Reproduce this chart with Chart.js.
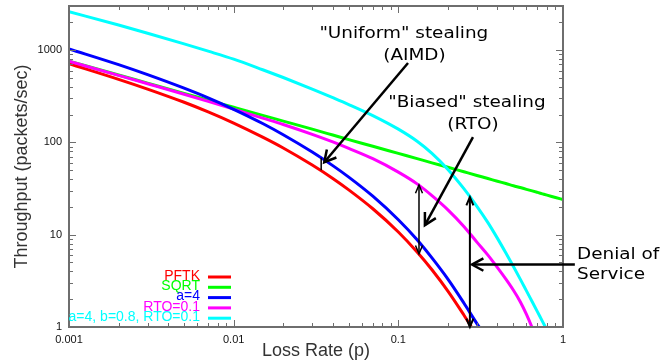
<!DOCTYPE html>
<html>
<head>
<meta charset="utf-8">
<script src="https://cdn.jsdelivr.net/npm/chart.js@4.4.1/dist/chart.umd.min.js"></script>
<style>
    html, body { margin: 0; padding: 0; background: #fff; }
    #contenedor { width: 660px; height: 362px; }
</style>
</head>
<body>
<div id="contenedor"><canvas id="graficaThroughput" width="660" height="362"></canvas></div>
<script>
// Tasas de pérdida (eje X, escala logarítmica)
const tasasPerdida = [0.001, 0.002, 0.003, 0.005, 0.007, 0.01, 0.015, 0.02, 0.03, 0.04, 0.05, 0.07, 0.1, 0.13, 0.16,
    0.2, 0.25, 0.3, 0.35, 0.4, 0.45, 0.5, 0.55, 0.6, 0.65, 0.7, 0.75, 0.8, 0.9, 1.0];

// Throughput (paquetes/seg), un valor por tasa de pérdida
const pftk = [712, 482, 378, 272, 214, 162, 114, 87, 56.8, 40.7, 30.6, 19.1, 10.7, 6.5, 4.17, 2.45, 1.35, 0.81, 0.55, 0.39];
const sqrtModelo = [759, 537, 438, 339, 287, 240, 196, 170, 139, 120, 107, 90.7, 75.9, 66.6, 60, 53.7, 48, 43.8, 40.6,
    37.9, 35.8, 33.9, 32.4, 31, 29.8, 28.7, 27.7, 26.8, 25.3, 24];
const aimdA4 = [1030, 695, 541, 386, 303, 228, 160, 121, 78.6, 56, 42, 26.1, 14.5, 8.8, 5.6, 3.3, 1.82, 1.09, 0.74, 0.52];
const rto01 = [756, 532, 432, 332, 278, 229, 183, 156, 122, 101, 86, 66.5, 47.6, 35.5, 26.5, 18.6, 12.3, 8.3, 6.0, 4.4,
    3.3, 2.5, 1.88, 1.37, 0.98, 0.69, 0.48];
const agresivo = [2600, 1865, 1522, 1167, 973, 797, 612, 504, 378, 305, 257, 195, 139, 102.8, 76, 50.9, 31.5, 20.3, 13.5,
    9.12, 6.33, 4.52, 3.3, 2.46, 1.88, 1.46, 1.15, 0.926, 0.62, 0.434];

// Etiquetas de los ejes
const etiquetasX = [0.001, 0.01, 0.1, 1];
const etiquetasY = [1, 10, 100, 1000];

// Textos de anotación: [texto, p, throughput, alineación]
const textosAnotacion = [
    ['"Uniform" stealing', 0.108, 1492, 'center'],
    ['(AIMD)', 0.1253, 861, 'center'],
    ['"Biased" stealing', 0.261, 267, 'center'],
    ['(RTO)', 0.284, 154, 'center'],
    ['Denial of', 1.216, 6.1, 'left'],
    ['Service', 1.216, 3.7, 'left']
];

// Flechas: [p inicio, T inicio, p fin, T fin, puntas, grosor]
const flechas = [
    [0.1145, 724, 0.0355, 61, 'fin', 2.5],
    [0.284, 114, 0.145, 12.7, 'fin', 2.5],
    [0.1335, 6.2, 0.1335, 34.5, 'ambas', 1.5],
    [0.272, 1, 0.272, 25.6, 'ambas', 2],
    [1.18, 4.75, 0.28, 4.75, 'fin', 2.5],
    [0.034, 50, 0.034, 68, 'ninguna', 1.5]
];

function serie(label, valores, color, orden) {
    return {
        label: label,
        data: valores.map((v, i) => ({ x: tasasPerdida[i], y: v })),
        borderColor: color,
        backgroundColor: color,
        borderWidth: 3,
        pointRadius: 0,
        cubicInterpolationMode: 'monotone',
        order: orden
    };
}

// Dibuja una punta de flecha abierta en (x2, y2)
function punta(ctx, x1, y1, x2, y2, largo, abertura) {
    const ang = Math.atan2(y2 - y1, x2 - x1);
    ctx.beginPath();
    ctx.moveTo(x2 - largo * Math.cos(ang - abertura), y2 - largo * Math.sin(ang - abertura));
    ctx.lineTo(x2, y2);
    ctx.lineTo(x2 - largo * Math.cos(ang + abertura), y2 - largo * Math.sin(ang + abertura));
    ctx.stroke();
}

// Marcas de los ejes hacia dentro, en los cuatro lados, y el marco
const marcasEje = {
    id: 'marcasEje',
    afterDraw(chart) {
        const { ctx, chartArea: a, scales: { x, y } } = chart;
        ctx.save();
        ctx.strokeStyle = '#6e6e6e';
        ctx.lineWidth = 1;
        ctx.beginPath();
        for (let e = -3; e <= 0; e++) {
            for (let d = 1; d <= 9; d++) {
                const v = d * Math.pow(10, e);
                if (v > 1.0001) break;
                const px = Math.round(x.getPixelForValue(v)) + 0.5;
                const largo = d === 1 ? 7 : 4;
                ctx.moveTo(px, a.bottom); ctx.lineTo(px, a.bottom - largo);
                ctx.moveTo(px, a.top); ctx.lineTo(px, a.top + largo);
            }
        }
        for (let e = 0; e <= 3; e++) {
            for (let d = 1; d <= 9; d++) {
                const v = d * Math.pow(10, e);
                if (v > y.max) break;
                const py = Math.round(y.getPixelForValue(v)) + 0.5;
                const largo = d === 1 ? 7 : 4;
                ctx.moveTo(a.left, py); ctx.lineTo(a.left + largo, py);
                ctx.moveTo(a.right, py); ctx.lineTo(a.right - largo, py);
            }
        }
        ctx.stroke();
        ctx.lineWidth = 2;
        ctx.strokeRect(a.left, a.top, a.right - a.left, a.bottom - a.top);
        ctx.restore();
    }
};

// Leyenda dentro del área, abajo a la izquierda
const leyendaInterna = {
    id: 'leyendaInterna',
    afterDraw(chart) {
        const { ctx, chartArea: a } = chart;
        ctx.save();
        ctx.font = '14px "Liberation Sans", Arial, sans-serif';
        ctx.textAlign = 'right';
        ctx.textBaseline = 'middle';
        chart.data.datasets.forEach((ds, i) => {
            const yy = a.bottom - 50 + i * 10.3;
            ctx.fillStyle = ds.borderColor;
            ctx.fillText(ds.label, a.left + 131, yy - 1);
            ctx.strokeStyle = ds.borderColor;
            ctx.lineWidth = 3;
            ctx.beginPath();
            ctx.moveTo(a.left + 139, yy);
            ctx.lineTo(a.left + 162, yy);
            ctx.stroke();
        });
        ctx.restore();
    }
};

// Textos y flechas de las anotaciones
const anotaciones = {
    id: 'anotaciones',
    afterDraw(chart) {
        const { ctx, scales: { x, y } } = chart;
        ctx.save();
        ctx.fillStyle = '#000';
        ctx.strokeStyle = '#000';
        ctx.font = '16px "DejaVu Sans", Verdana, sans-serif';
        ctx.textBaseline = 'middle';
        textosAnotacion.forEach(([texto, p, t, alin]) => {
            ctx.save();
            ctx.translate(x.getPixelForValue(p), y.getPixelForValue(t));
            ctx.scale(1.15, 1);
            ctx.textAlign = alin;
            ctx.fillText(texto, 0, 0);
            ctx.restore();
        });
        flechas.forEach(([p1, t1, p2, t2, puntas, grosor]) => {
            const x1 = x.getPixelForValue(p1), y1 = y.getPixelForValue(t1);
            const x2 = x.getPixelForValue(p2), y2 = y.getPixelForValue(t2);
            ctx.lineWidth = grosor;
            ctx.beginPath();
            ctx.moveTo(x1, y1);
            ctx.lineTo(x2, y2);
            ctx.stroke();
            if (puntas === 'fin') punta(ctx, x1, y1, x2, y2, 13, 0.5);
            if (puntas === 'ambas') {
                punta(ctx, x1, y1, x2, y2, 9, 0.4);
                punta(ctx, x2, y2, x1, y1, 9, 0.4);
            }
        });
        ctx.restore();
    }
};

document.addEventListener('DOMContentLoaded', function () {
    const ctx = document.getElementById('graficaThroughput').getContext('2d');
    const fuenteEjes = { family: '"Liberation Sans", Arial, sans-serif', size: 11 };
    const fuenteTitulo = { family: '"Liberation Sans", Arial, sans-serif', size: 18 };

    new Chart(ctx, {
        type: 'line',
        data: {
            datasets: [
                serie('PFTK', pftk, '#ff0000', 4),
                serie('SQRT', sqrtModelo, '#00ff00', 5),
                serie('a=4', aimdA4, '#0000ff', 2),
                serie('RTO=0.1', rto01, '#ff00ff', 3),
                serie('a=4, b=0.8, RTO=0.1', agresivo, '#00ffff', 1)
            ]
        },
        options: {
            responsive: false,
            animation: false,
            layout: { padding: { top: 6, right: 97, left: 0, bottom: 0 } },
            plugins: { legend: { display: false }, tooltip: { enabled: false } },
            scales: {
                x: {
                    type: 'logarithmic',
                    min: 0.001,
                    max: 1,
                    grid: { display: false, drawTicks: false },
                    border: { display: false },
                    afterFit: s => { s.height = 35; s.paddingLeft = 0; s.paddingRight = 0; },
                    afterBuildTicks: s => { s.ticks = etiquetasX.map(v => ({ value: v })); },
                    ticks: { autoSkip: false, maxRotation: 0, padding: 6, color: '#111', font: fuenteEjes,
                        callback: v => String(v) },
                    title: { display: true, text: 'Loss Rate (p)', color: '#333', font: fuenteTitulo,
                        padding: { top: 0, bottom: 0 } }
                },
                y: {
                    type: 'logarithmic',
                    min: 1,
                    max: 3000,
                    grid: { display: false, drawTicks: false },
                    border: { display: false },
                    afterFit: s => { s.width = 69; s.paddingTop = 0; s.paddingBottom = 0; },
                    afterBuildTicks: s => { s.ticks = etiquetasY.map(v => ({ value: v })); },
                    ticks: { autoSkip: false, padding: 7, color: '#111', font: fuenteEjes,
                        callback: v => String(v) },
                    title: { display: true, text: 'Throughput (packets/sec)', color: '#333', font: fuenteTitulo,
                        padding: { top: 11, bottom: 0 } }
                }
            }
        },
        plugins: [marcasEje, leyendaInterna, anotaciones]
    });
});
</script>
</body>
</html>
